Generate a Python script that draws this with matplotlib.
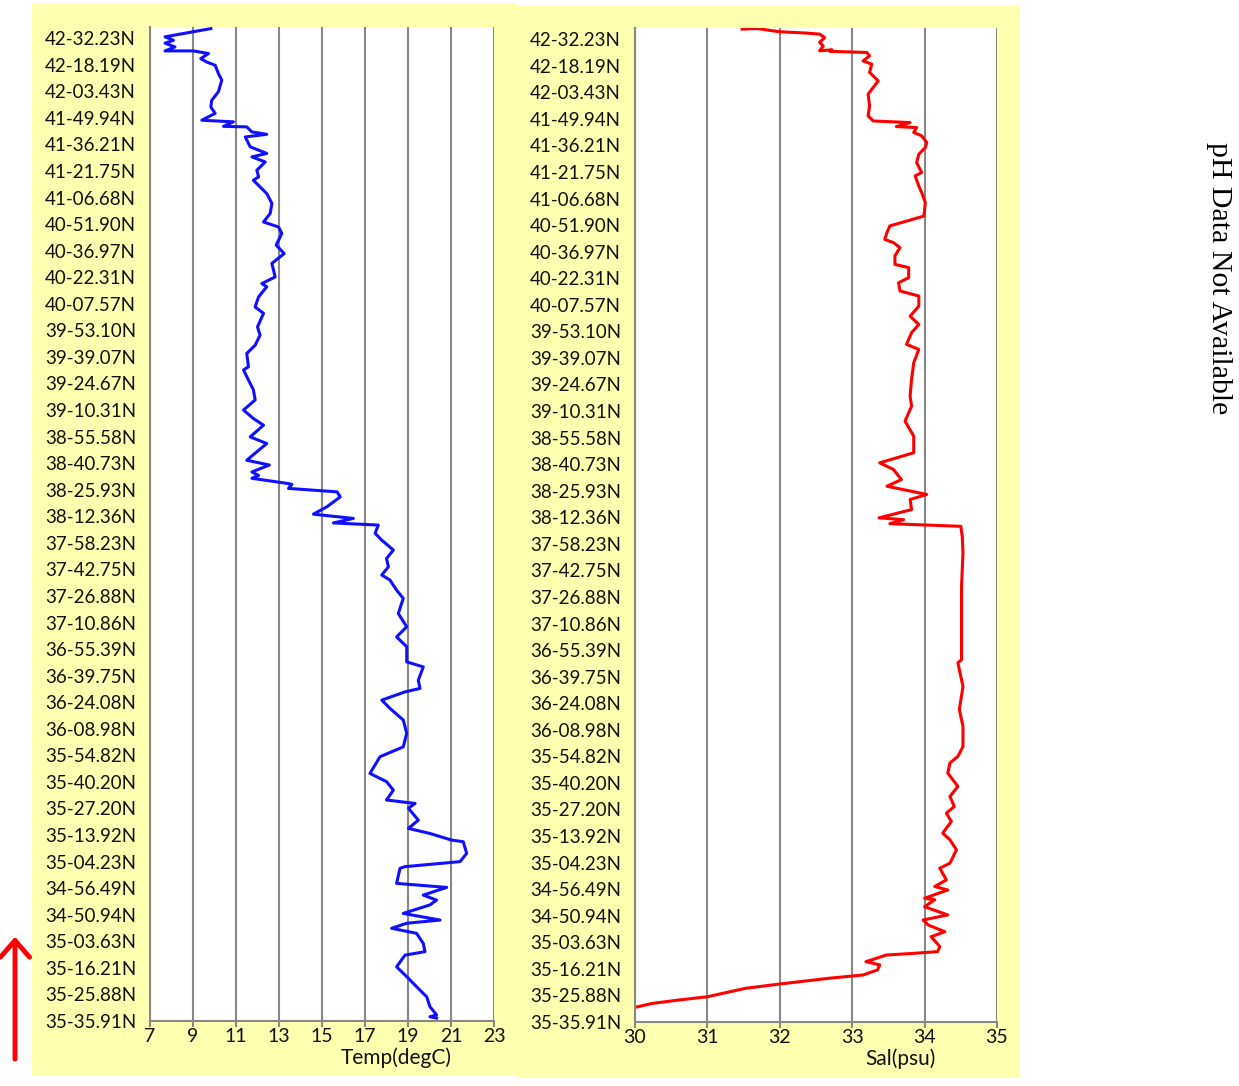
import matplotlib.pyplot as plt
from matplotlib.patches import Rectangle, FancyArrowPatch

# station labels, bottom (index 0) to top (index 37)
stations = [
    "35-35.91N", "35-25.88N", "35-16.21N", "35-03.63N", "34-50.94N", "34-56.49N",
    "35-04.23N", "35-13.92N", "35-27.20N", "35-40.20N", "35-54.82N", "36-08.98N",
    "36-24.08N", "36-39.75N", "36-55.39N", "37-10.86N", "37-26.88N", "37-42.75N",
    "37-58.23N", "38-12.36N", "38-25.93N", "38-40.73N", "38-55.58N", "39-10.31N",
    "39-24.67N", "39-39.07N", "39-53.10N", "40-07.57N", "40-22.31N", "40-36.97N",
    "40-51.90N", "41-06.68N", "41-21.75N", "41-36.21N", "41-49.94N", "42-03.43N",
    "42-18.19N", "42-32.23N",
]

# temperature trace: position along track (station index) and value
temp_pos = [
    37.36, 37.05, 36.92, 36.81, 36.67, 36.52, 36.52, 36.42, 36.23, 36.10, 35.98,
    35.67, 35.42, 34.98, 34.66, 34.41, 34.17, 33.91, 33.85, 33.68, 33.66, 33.47,
    33.38, 33.28, 32.91, 32.66, 32.53, 32.34, 32.03, 31.78, 31.65, 31.40, 31.15,
    30.78, 30.40, 30.08, 29.89, 29.65, 29.21, 28.89, 28.52, 28.01, 27.76, 27.64,
    27.26, 26.88, 26.64, 26.13, 25.82, 25.44, 25.13, 24.63, 24.51, 24.13, 23.76,
    23.38, 23.00, 22.68, 22.43, 21.99, 21.74, 21.11, 20.93, 20.67, 20.54, 20.43,
    20.24, 20.20, 20.05, 19.92, 19.73, 19.36, 19.08, 18.92, 18.75, 18.67, 18.36,
    18.10, 17.73, 17.41, 17.10, 16.79, 16.60, 16.22, 15.91, 15.34, 14.84, 14.46,
    14.09, 13.52, 13.33, 12.83, 12.52, 12.39, 12.08, 11.77, 11.33, 10.83, 10.32,
    9.95, 9.32, 9.01, 8.69, 8.32, 8.19, 8.01, 7.56, 7.25, 7.06, 6.81, 6.75, 6.31,
    6.00, 5.81, 5.75, 5.18, 5.03, 4.74, 4.55, 4.37, 4.05, 3.80, 3.68, 3.49, 3.30,
    2.92, 2.61, 2.48, 2.04, 1.67, 1.29, 0.91, 0.54, 0.23, 0.16, 0.11,
]
temp_val = [
    9.83, 7.70, 8.09, 7.70, 8.16, 7.70, 9.02, 9.72, 9.36, 9.64, 10.03,
    10.18, 10.34, 10.18, 9.87, 9.83, 10.03, 9.41, 10.88, 10.42, 11.50, 11.74,
    12.43, 11.43, 11.66, 12.43, 11.74, 12.36, 11.97, 12.05, 11.81, 12.12, 12.43,
    12.67, 12.59, 12.28, 12.98, 13.13, 12.87, 13.24, 12.67, 12.82, 12.20, 12.43,
    12.05, 11.89, 12.28, 12.00, 12.12, 11.89, 11.50, 11.58, 11.35, 11.58, 11.81,
    11.89, 11.35, 11.81, 12.28, 11.66, 12.43, 11.50, 12.55, 11.74, 12.05, 11.74,
    13.37, 13.60, 13.44, 15.70, 15.85, 15.23, 14.60, 16.46, 15.53, 17.62, 17.47,
    17.78, 18.32, 18.00, 18.09, 17.78, 18.16, 18.47, 18.78, 18.55, 18.94, 18.47,
    18.94, 18.94, 19.71, 19.48, 19.56, 18.86, 17.78, 18.16, 18.78, 18.94, 18.78,
    17.70, 17.23, 18.00, 18.32, 18.00, 19.33, 19.02, 19.48, 19.02, 20.02, 21.03,
    21.57, 21.73, 21.42, 18.86, 18.63, 18.47, 20.80, 19.71, 20.33, 20.02, 18.78,
    20.49, 18.94, 18.24, 19.40, 19.71, 19.79, 18.86, 18.47, 18.94, 19.40, 19.87,
    20.02, 20.33, 20.02, 20.33,
]

# salinity trace
sal_pos = [
    37.38, 37.40, 37.28, 37.23, 37.19, 37.06, 36.88, 36.74, 36.56, 36.60, 36.54,
    36.50, 36.37, 36.18, 36.06, 35.75, 35.43, 35.18, 34.93, 34.49, 34.11, 33.92,
    33.86, 33.71, 33.67, 33.49, 33.36, 33.11, 32.92, 32.67, 32.35, 31.98, 31.85,
    31.47, 31.22, 30.85, 30.34, 30.15, 29.97, 29.72, 29.46, 29.34, 29.15, 28.84,
    28.52, 28.40, 28.02, 27.83, 27.52, 27.33, 26.95, 26.57, 26.26, 25.95, 25.51,
    25.32, 24.82, 24.19, 23.56, 23.18, 22.62, 22.05, 21.43, 21.05, 20.80, 20.42,
    20.17, 19.86, 19.67, 19.29, 18.98, 18.91, 18.76, 18.66, 18.29, 17.66, 16.40,
    15.15, 13.64, 13.52, 12.63, 11.76, 11.13, 10.37, 10.00, 9.75, 9.37, 8.87,
    8.49, 8.11, 7.86, 7.55, 7.11, 6.86, 6.48, 5.98, 5.79, 5.35, 5.10, 4.97, 4.66,
    4.60, 4.34, 4.03, 3.84, 3.65, 3.40, 3.21, 2.84, 2.65, 2.59, 2.52, 2.27, 2.15,
    1.96, 1.77, 1.65, 1.43, 1.27, 0.95, 0.83, 0.70, 0.55,
]
sal_val = [
    31.48, 31.69, 31.99, 32.36, 32.55, 32.62, 32.55, 32.60, 32.55, 32.72, 32.69,
    33.20, 33.24, 33.15, 33.27, 33.24, 33.36, 33.29, 33.22, 33.24, 33.22, 33.29,
    33.80, 33.61, 33.89, 33.85, 33.96, 34.03, 34.01, 33.92, 33.89, 33.96, 33.87,
    33.92, 33.96, 34.01, 33.99, 33.75, 33.52, 33.48, 33.45, 33.57, 33.66, 33.59,
    33.59, 33.78, 33.78, 33.64, 33.66, 33.92, 33.92, 33.80, 33.92, 33.82, 33.75,
    33.92, 33.85, 33.82, 33.80, 33.82, 33.73, 33.85, 33.85, 33.38, 33.57, 33.68,
    33.48, 34.03, 33.80, 33.82, 33.37, 33.71, 33.52, 34.50, 34.52, 34.53, 34.51,
    34.51, 34.51, 34.46, 34.53, 34.48, 34.53, 34.53, 34.46, 34.35, 34.32, 34.46,
    34.35, 34.41, 34.30, 34.37, 34.25, 34.35, 34.44, 34.35, 34.21, 34.30, 34.14,
    34.32, 34.00, 34.14, 34.00, 34.32, 33.98, 34.05, 34.28, 34.09, 34.21, 34.18,
    33.88, 33.47, 33.19, 33.38, 33.35, 33.15, 32.69, 32.00, 31.53, 31.00, 30.61,
    30.24, 30.00,
]

temp_ticks = [7, 9, 11, 13, 15, 17, 19, 21, 23]
sal_ticks = [30, 31, 32, 33, 34, 35]

W, H = 1239, 1086
fig = plt.figure(figsize=(W / 100, H / 100), dpi=100)
plt.rcParams['font.family'] = ['Lato', 'DejaVu Sans']

yellow = '#FFFFB0'
grey = '#888888'
ink = '#111111'

# panel backgrounds
for x0, y0, x1, y1 in [(32, 3, 517, 1076), (517, 5, 1020, 1078)]:
    fig.patches.append(Rectangle((x0 / W, 1 - y1 / H), (x1 - x0) / W, (y1 - y0) / H,
                                 transform=fig.transFigure, facecolor=yellow,
                                 edgecolor='none', zorder=-5))


def make_panel(rect, pos, val, ticks, color, xlabel, label_x):
    ax = fig.add_axes(rect)
    ax.set_zorder(2)
    ax.set_facecolor('white')
    ax.plot(val, pos, color=color, lw=2.2, solid_joinstyle='round')
    ax.set_xlim(ticks[0], ticks[-1])
    ax.set_ylim(0, 37.42)
    ax.set_xticks(ticks)
    ax.set_yticks(range(len(stations)))
    ax.set_yticklabels(stations)
    ax.grid(axis='x', color=grey, lw=1.5)
    ax.set_axisbelow(True)
    for s in ['top', 'right']:
        ax.spines[s].set_visible(False)
    for s in ['left', 'bottom']:
        ax.spines[s].set_color(grey)
        ax.spines[s].set_linewidth(1.5)
    ax.tick_params(axis='y', length=0, pad=10, labelsize=13.5, labelcolor=ink)
    ax.tick_params(axis='x', length=4, width=1.5, color=grey, pad=1,
                   labelsize=14, labelcolor=ink)
    ax.set_xlabel(xlabel, fontsize=15, color=ink)
    ax.xaxis.set_label_coords(label_x, -0.027)
    return ax


make_panel([150 / W, 1 - 1021 / H, 344 / W, 994 / H], temp_pos, temp_val,
           temp_ticks, '#1010FF', 'Temp(degC)', 0.715)
make_panel([635 / W, 1 - 1022 / H, 362 / W, 994 / H], sal_pos, sal_val,
           sal_ticks, '#FF0000', 'Sal(psu)', 0.732)

fig.text(1219 / W, 1 - 278 / H, 'pH Data Not Available', rotation=-90,
         ha='center', va='center', fontsize=21.5, family='Liberation Serif')

# direction-of-travel arrow
fig.patches.append(FancyArrowPatch(
    (15 / W, 1 - 1062 / H), (15 / W, 1 - 934 / H), transform=fig.transFigure,
    arrowstyle='->,head_length=4,head_width=3.5', color='red', lw=3.5,
    mutation_scale=3))

fig.savefig('out.png', dpi=100)
